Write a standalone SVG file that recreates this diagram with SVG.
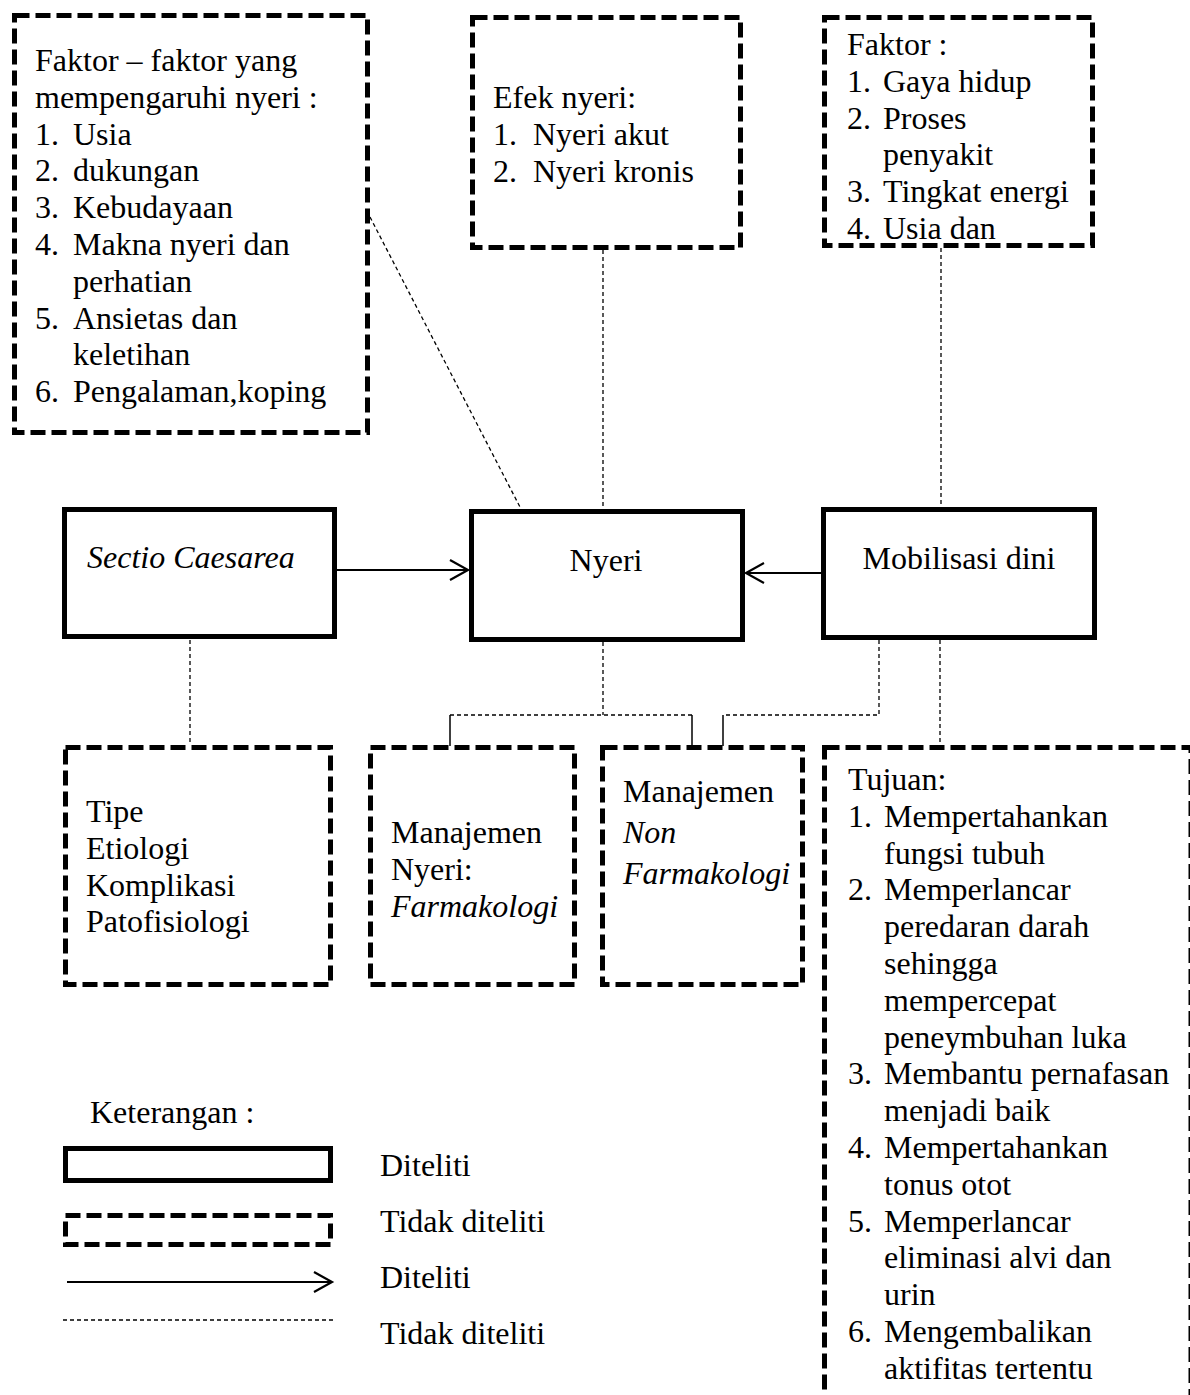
<svg xmlns="http://www.w3.org/2000/svg" width="1190" height="1395" viewBox="0 0 1190 1395">
<defs>
<marker id="arr" markerUnits="userSpaceOnUse" markerWidth="26" markerHeight="26" viewBox="-22 -13 26 26" refX="0" refY="0" orient="auto">
<path d="M-18,-10 L0,0 L-18,10" fill="none" stroke="#000" stroke-width="2.2"/>
</marker>
<style>
.t{font-family:"Liberation Serif","Times New Roman",serif;font-size:32px;fill:#000}
.i{font-style:italic}
.solid{fill:#fff;stroke:#000;stroke-width:5}
.dash{fill:#fff;stroke:#000;stroke-width:5;stroke-dasharray:15 6}
.conn{fill:none;stroke:#000;stroke-width:1.3;stroke-dasharray:4 3}
.thin{fill:none;stroke:#000;stroke-width:1.5}
.arrow{fill:none;stroke:#000;stroke-width:2;marker-end:url(#arr)}
</style>
</defs>
<rect x="0" y="0" width="1190" height="1395" fill="#fff"/>

<g id="connectors">
<line class="conn" x1="370" y1="217" x2="521" y2="509"/>
<line class="conn" x1="603" y1="250" x2="603" y2="509"/>
<line class="conn" x1="941" y1="248" x2="941" y2="507"/>
<line class="conn" x1="190" y1="640" x2="190" y2="745"/>
<polyline class="conn" points="603,642 603,715"/>
<polyline class="conn" points="450,715 692,715"/>
<line class="thin" x1="450" y1="715" x2="450" y2="746"/>
<line class="thin" x1="692" y1="715" x2="692" y2="746"/>
<polyline class="conn" points="879,640 879,715 723,715"/>
<line class="thin" x1="723" y1="715" x2="723" y2="746"/>
<line class="conn" x1="940" y1="640" x2="940" y2="745"/>
<line class="arrow" x1="337" y1="570" x2="468" y2="570"/>
<line class="arrow" x1="821" y1="573" x2="746" y2="573"/>
</g>

<g id="node-faktor-nyeri">
<rect class="dash" x="14.5" y="15.5" width="353" height="417"/>
<text class="t" x="35" y="71">Faktor – faktor yang</text>
<text class="t" x="35" y="107.8">mempengaruhi nyeri :</text>
<text class="t" x="35" y="144.6">1.</text><text class="t" x="73" y="144.6">Usia</text>
<text class="t" x="35" y="181.4">2.</text><text class="t" x="73" y="181.4">dukungan</text>
<text class="t" x="35" y="218.2">3.</text><text class="t" x="73" y="218.2">Kebudayaan</text>
<text class="t" x="35" y="255">4.</text><text class="t" x="73" y="255">Makna nyeri dan</text>
<text class="t" x="73" y="291.8">perhatian</text>
<text class="t" x="35" y="328.6">5.</text><text class="t" x="73" y="328.6">Ansietas dan</text>
<text class="t" x="73" y="365.4">keletihan</text>
<text class="t" x="35" y="402.2">6.</text><text class="t" x="73" y="402.2">Pengalaman,koping</text>
</g>

<g id="node-efek-nyeri">
<rect class="dash" x="472.5" y="17.5" width="268" height="230"/>
<text class="t" x="493" y="108">Efek nyeri:</text>
<text class="t" x="493" y="144.8">1.</text><text class="t" x="533" y="144.8">Nyeri akut</text>
<text class="t" x="493" y="181.6">2.</text><text class="t" x="533" y="181.6">Nyeri kronis</text>
</g>

<g id="node-faktor-mobilisasi">
<rect class="dash" x="824.5" y="17.5" width="268" height="228"/>
<text class="t" x="847" y="55">Faktor :</text>
<text class="t" x="847" y="91.8">1.</text><text class="t" x="883" y="91.8">Gaya hidup</text>
<text class="t" x="847" y="128.6">2.</text><text class="t" x="883" y="128.6">Proses</text>
<text class="t" x="883" y="165.4">penyakit</text>
<text class="t" x="847" y="202.2">3.</text><text class="t" x="883" y="202.2">Tingkat energi</text>
<text class="t" x="847" y="239">4.</text><text class="t" x="883" y="239">Usia dan</text>
</g>

<g id="node-sectio">
<rect class="solid" x="64.5" y="509.5" width="270" height="127"/>
<text class="t i" x="87" y="568">Sectio Caesarea</text>
</g>

<g id="node-nyeri">
<rect class="solid" x="471.5" y="511.5" width="271" height="128"/>
<text class="t" x="606" y="571" text-anchor="middle">Nyeri</text>
</g>

<g id="node-mobilisasi">
<rect class="solid" x="823.5" y="509.5" width="271" height="128"/>
<text class="t" x="959" y="569" text-anchor="middle">Mobilisasi dini</text>
</g>

<g id="node-tipe">
<rect class="dash" x="65.5" y="747.5" width="265" height="237"/>
<text class="t" x="86" y="822">Tipe</text>
<text class="t" x="86" y="858.8">Etiologi</text>
<text class="t" x="86" y="895.6">Komplikasi</text>
<text class="t" x="86" y="932.4">Patofisiologi</text>
</g>

<g id="node-farmakologi">
<rect class="dash" x="370.5" y="747.5" width="204" height="237"/>
<text class="t" x="391" y="843">Manajemen</text>
<text class="t" x="391" y="879.8">Nyeri:</text>
<text class="t i" x="391" y="916.6">Farmakologi</text>
</g>

<g id="node-non-farmakologi">
<rect class="dash" x="602.5" y="747.5" width="200" height="237"/>
<text class="t" x="623" y="802">Manajemen</text>
<text class="t i" x="623" y="843">Non</text>
<text class="t i" x="623" y="884">Farmakologi</text>
</g>

<g id="node-tujuan">
<rect class="dash" x="824.5" y="747.5" width="366.5" height="700"/>
<text class="t" x="848" y="790">Tujuan:</text>
<text class="t" x="848" y="826.8">1.</text><text class="t" x="884" y="826.8">Mempertahankan</text>
<text class="t" x="884" y="863.6">fungsi tubuh</text>
<text class="t" x="848" y="900.4">2.</text><text class="t" x="884" y="900.4">Memperlancar</text>
<text class="t" x="884" y="937.2">peredaran darah</text>
<text class="t" x="884" y="974">sehingga</text>
<text class="t" x="884" y="1010.8">mempercepat</text>
<text class="t" x="884" y="1047.6">peneymbuhan luka</text>
<text class="t" x="848" y="1084.4">3.</text><text class="t" x="884" y="1084.4">Membantu pernafasan</text>
<text class="t" x="884" y="1121.2">menjadi baik</text>
<text class="t" x="848" y="1158">4.</text><text class="t" x="884" y="1158">Mempertahankan</text>
<text class="t" x="884" y="1194.8">tonus otot</text>
<text class="t" x="848" y="1231.6">5.</text><text class="t" x="884" y="1231.6">Memperlancar</text>
<text class="t" x="884" y="1268.4">eliminasi alvi dan</text>
<text class="t" x="884" y="1305.2">urin</text>
<text class="t" x="848" y="1342">6.</text><text class="t" x="884" y="1342">Mengembalikan</text>
<text class="t" x="884" y="1378.8">aktifitas tertentu</text>
</g>

<g id="legend">
<text class="t" x="90" y="1123">Keterangan :</text>
<rect class="solid" x="65.5" y="1148.5" width="265" height="32"/>
<text class="t" x="380" y="1176">Diteliti</text>
<rect class="dash" x="65.5" y="1215.5" width="265" height="29"/>
<text class="t" x="380" y="1232">Tidak diteliti</text>
<line class="arrow" x1="67" y1="1282" x2="332" y2="1282"/>
<text class="t" x="380" y="1288">Diteliti</text>
<line class="conn" x1="63" y1="1320" x2="333" y2="1320"/>
<text class="t" x="380" y="1344">Tidak diteliti</text>
</g>
</svg>
